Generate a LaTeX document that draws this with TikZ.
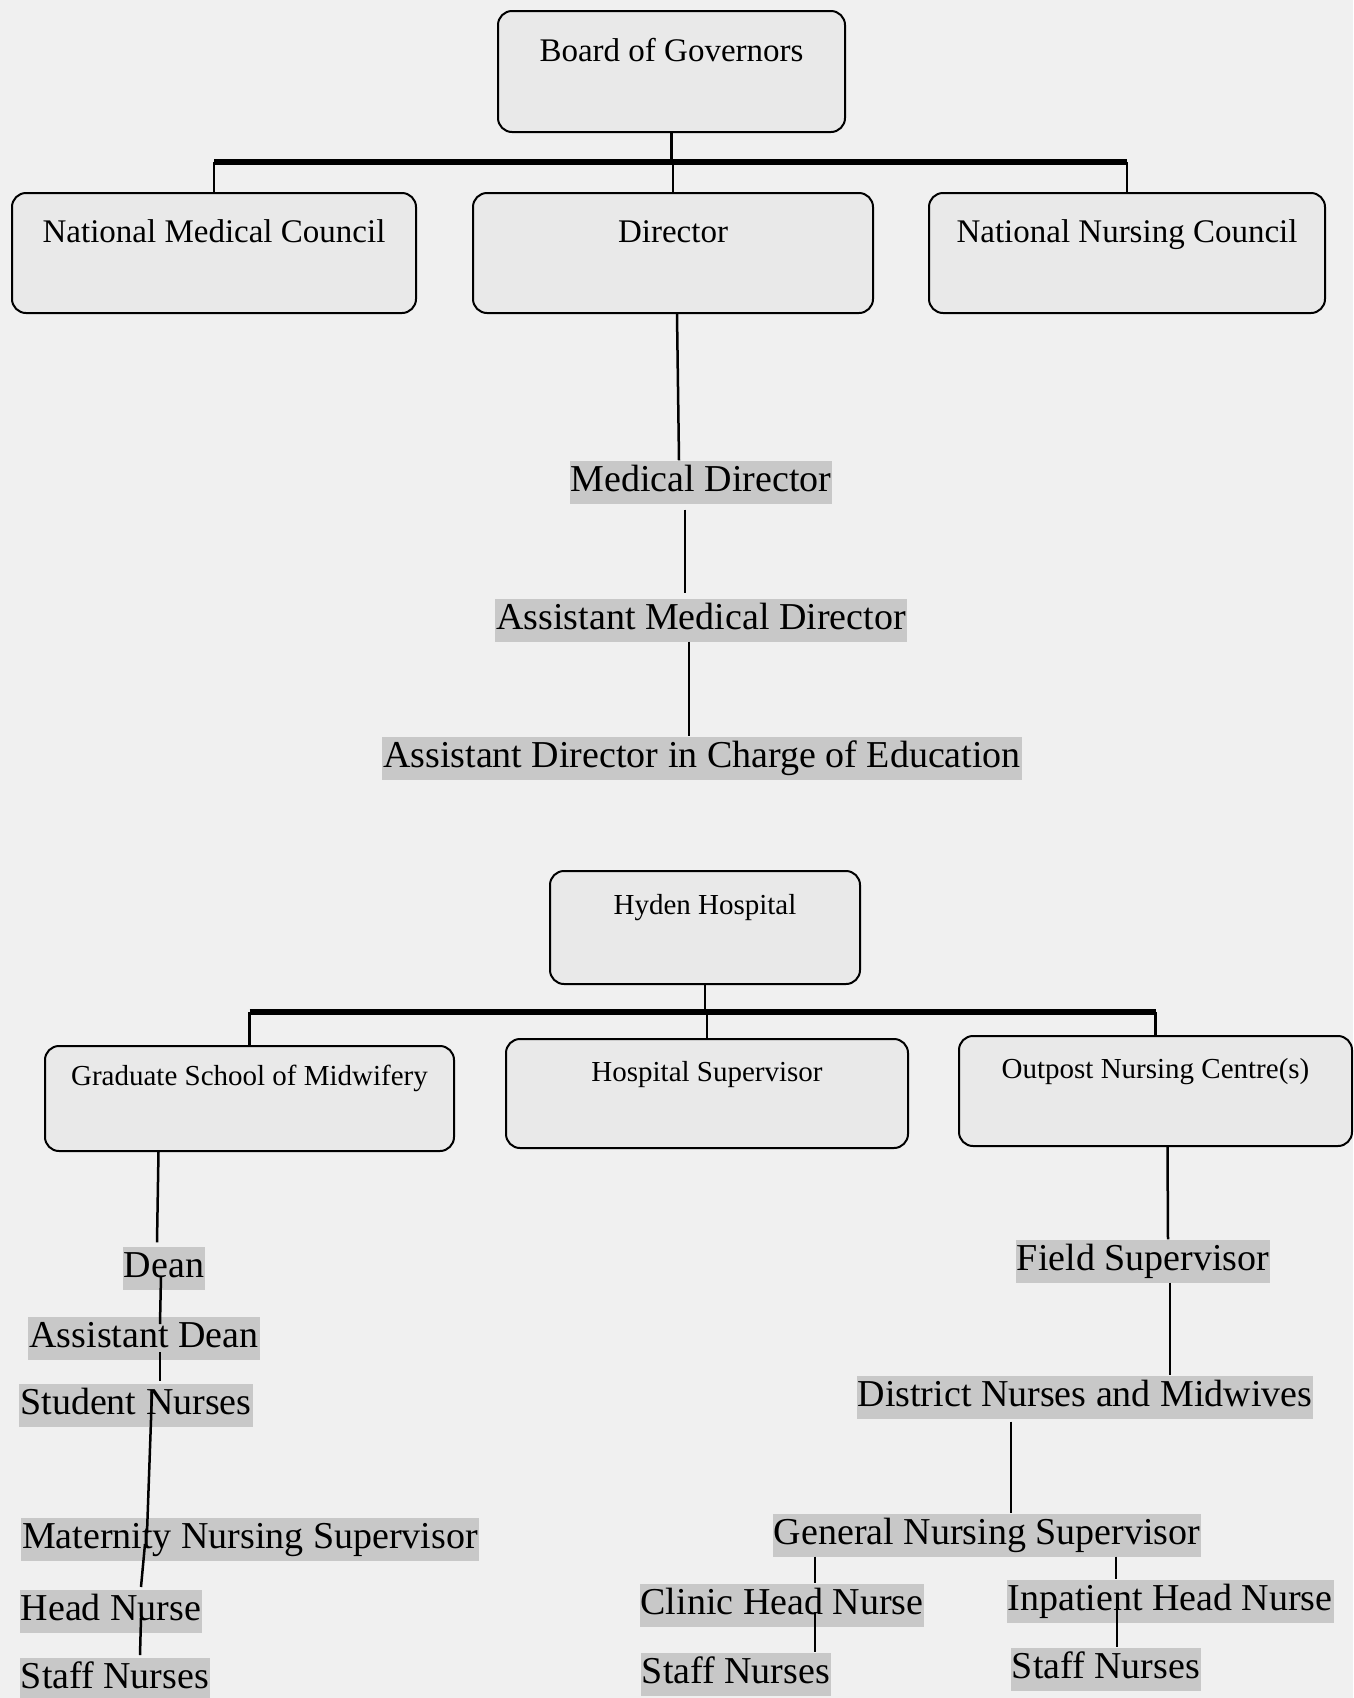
\documentclass[tikz,border=0pt]{standalone}
\usepackage{fontspec}
\setmainfont{Liberation Serif}
\definecolor{bgc}{RGB}{240,240,240}
\definecolor{boxc}{RGB}{233,233,233}
\definecolor{hlc}{RGB}{200,200,200}
\begin{document}
\begin{tikzpicture}[x=1pt,y=-1pt,
  orgbox/.style={draw=black, fill=boxc, rounded corners=14pt, line width=2pt, inner sep=0pt, anchor=north west},
  topfont/.style={font=\fontsize{33}{40}\selectfont},
  lowfont/.style={font=\fontsize{29}{35}\selectfont},
  hl/.style={fill=hlc, inner xsep=1pt, inner ysep=3pt, text height=28pt, text depth=9pt, font=\fontsize{38}{46}\selectfont},
  conn/.style={draw=black, line width=2.5pt},
  bar/.style={draw=black, line width=6pt}]
\useasboundingbox (0,0) rectangle (1353,1698);
\fill[bgc] (0,0) rectangle (1353,1698);

% ---- top chart ----
\node[orgbox, topfont, minimum width=347pt, minimum height=121pt, text height=50pt, text depth=71pt] (board) at (497,10) {Board of Governors};
\node[orgbox, topfont, minimum width=404pt, minimum height=120pt, text height=49pt, text depth=71pt] (nmc) at (11,192) {National Medical Council};
\node[orgbox, topfont, minimum width=400pt, minimum height=120pt, text height=49pt, text depth=71pt] (dir) at (472,192) {Director};
\node[orgbox, topfont, minimum width=396pt, minimum height=120pt, text height=49pt, text depth=71pt] (nnc) at (928,192) {National Nursing Council};
\coordinate (barT) at (671,162);
\draw[bar] (nmc.north |- barT) -- (nnc.north |- barT);
\draw[conn] (board.south) -- (board.south |- barT);
\draw[conn] (nmc.north) -- (nmc.north |- barT);
\draw[conn] (dir.north) -- (dir.north |- barT);
\draw[conn] (nnc.north) -- (nnc.north |- barT);

\node[hl] (md) at (701,482) {Medical Director};
\node[hl] (amd) at (701,620) {Assistant Medical Director};
\node[hl] (adce) at (702,758) {Assistant Director in Charge of Education};
\draw[conn] ([xshift=4pt]dir.south) -- ([xshift=-22pt]md.north);
\draw[conn] ([shift={(-16,6)}]md.south) -- ([shift={(-16,-5)}]amd.north);
\draw[conn] ([xshift=-12pt]amd.south) -- ([xshift=-13pt]adce.north);

% ---- lower chart ----
\node[orgbox, lowfont, minimum width=310pt, minimum height=113pt, text height=43pt, text depth=70pt] (hyden) at (549,870) {Hyden Hospital};
\node[orgbox, lowfont, minimum width=409pt, minimum height=105pt, text height=39pt, text depth=66pt] (grad) at (44,1045) {Graduate School of Midwifery};
\node[orgbox, lowfont, minimum width=402pt, minimum height=109pt, text height=42pt, text depth=67pt] (hsup) at (505,1038) {Hospital Supervisor};
\node[orgbox, lowfont, minimum width=393pt, minimum height=110pt, text height=42pt, text depth=68pt] (outp) at (958,1035) {Outpost Nursing Centre(s)};
\coordinate (barB) at (704,1012);
\draw[bar] (grad.north |- barB) -- (outp.north |- barB);
\draw[conn] (hyden.south) -- (hyden.south |- barB);
\draw[conn] (grad.north) -- (grad.north |- barB);
\draw[conn] (hsup.north) -- (hsup.north |- barB);
\draw[conn] (outp.north) -- (outp.north |- barB);

% left column
\node[hl] (dean) at (164,1268) {Dean};
\node[hl] (adean) at (144,1338) {Assistant Dean};
\node[hl] (snurse) at (136,1405) {Student Nurses};
\node[hl] (mns) at (250,1539) {Maternity Nursing Supervisor};
\node[hl] (head) at (111,1611) {Head Nurse};
\node[hl] (staffL) at (115,1679) {Staff Nurses};
\draw[conn] ([xshift=-91pt]grad.south) -- ([shift={(-7,-4)}]dean.north);
\draw[conn] ([shift={(-3,8)}]dean.center) -- ([shift={(16,-14)}]adean.center);
\draw[conn] ([shift={(16,14)}]adean.center) -- ([shift={(24,-24)}]snurse.center);
\draw[conn] ([shift={(16,-13)}]snurse.center) -- ([shift={(-103,-6)}]mns.center);
\draw[conn] ([shift={(-105,5)}]mns.center) -- ([shift={(30,-24)}]head.center);
\draw[conn] ([shift={(30,7)}]head.center) -- ([shift={(25,-24)}]staffL.center);

% right column
\node[hl] (field) at (1143,1261) {Field Supervisor};
\node[hl] (district) at (1085,1397) {District Nurses and Midwives};
\node[hl] (gns) at (987,1535) {General Nursing Supervisor};
\node[hl] (clinic) at (782,1605) {Clinic Head Nurse};
\node[hl] (inpat) at (1170,1601) {Inpatient Head Nurse};
\node[hl] (staffC) at (736,1674) {Staff Nurses};
\node[hl] (staffI) at (1106,1669) {Staff Nurses};
\draw[conn] ([xshift=12pt]outp.south) -- ([xshift=25pt]field.north);
\draw[conn] ([xshift=27pt]field.south) -- ([xshift=85pt]district.north);
\draw[conn] ([shift={(-74,3)}]district.south) -- ([xshift=24pt]gns.north);
\draw[conn] ([xshift=-172pt]gns.south) -- ([xshift=33pt]clinic.north);
\draw[conn] ([xshift=129pt]gns.south) -- ([xshift=-54pt]inpat.north);
\draw[conn] ([shift={(33,7)}]clinic.center) -- ([xshift=79pt]staffC.north);
\draw[conn] ([shift={(-53,2)}]inpat.center) -- ([xshift=11pt]staffI.north);
\end{tikzpicture}
\end{document}
